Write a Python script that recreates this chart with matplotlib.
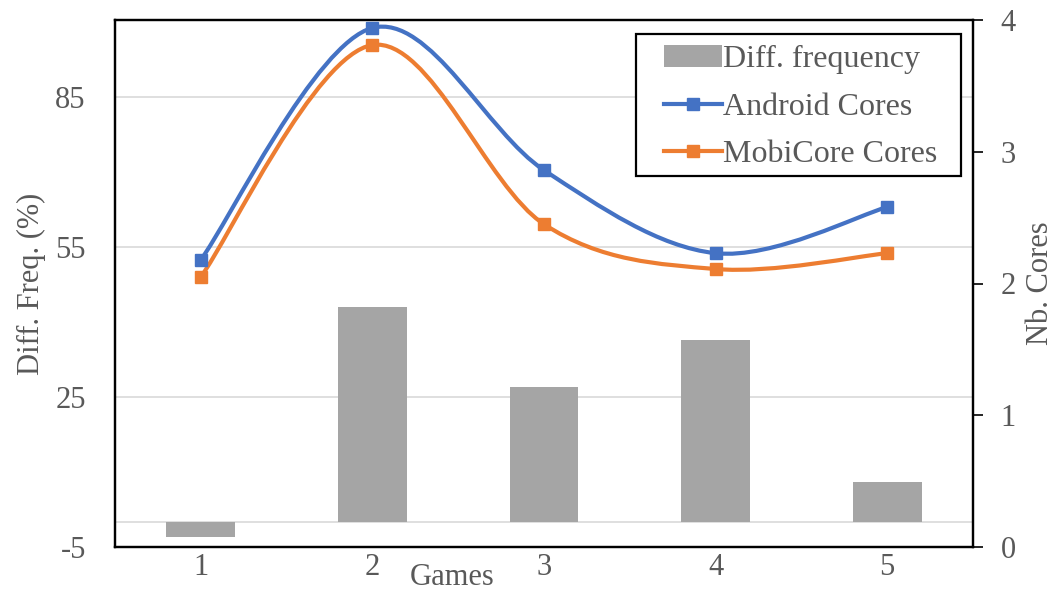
import matplotlib.pyplot as plt
from matplotlib.path import Path
from matplotlib.patches import PathPatch, Patch, Rectangle
from matplotlib.lines import Line2D

plt.rcParams['font.family'] = ['Liberation Serif', 'DejaVu Serif']
plt.rcParams['axes.unicode_minus'] = False

games = [1, 2, 3, 4, 5]
diff_freq = [-3, 43, 27, 36.4, 8]
android_cores = [2.18, 3.94, 2.86, 2.23, 2.58]
mobicore_cores = [2.05, 3.81, 2.45, 2.11, 2.23]

GRAY = '#A5A5A5'
BLUE = '#4472C4'
ORANGE = '#ED7D31'
TXT = '#595959'
FS = 22
W, H = 1054, 594


def smooth_path(xs, ys):
    # bezier through the points, control points from the neighbours (excel-like smoothing)
    pts = list(zip(xs, ys))
    verts = [pts[0]]
    codes = [Path.MOVETO]
    n = len(pts)
    for i in range(n - 1):
        p0 = pts[i - 1] if i > 0 else pts[i]
        p1 = pts[i]
        p2 = pts[i + 1]
        p3 = pts[i + 2] if i + 2 < n else pts[i + 1]
        c1 = (p1[0] + (p2[0] - p0[0]) / 6, p1[1] + (p2[1] - p0[1]) / 6)
        c2 = (p2[0] - (p3[0] - p1[0]) / 6, p2[1] - (p3[1] - p1[1]) / 6)
        verts += [c1, c2, p2]
        codes += [Path.CURVE4] * 3
    return Path(verts, codes)


fig = plt.figure(figsize=(W / 100, H / 100), dpi=100)
ax = fig.add_axes([115 / W, 1 - 547 / H, 858 / W, 527 / H])
ax2 = ax.twinx()

ax.bar(games, diff_freq, width=0.4, color=GRAY, zorder=2)
ax.axhline(0, color='#D9D9D9', lw=1.2, zorder=1)
ax.set_xlim(0.5, 5.5)
ax.set_ylim(-5, 100.4)
ax.set_yticks([-5, 25, 55, 85])
ax.set_xticks(games)
ax.grid(axis='y', color='#D9D9D9', lw=1.2, zorder=0)
ax.set_axisbelow(True)
ax.tick_params(axis='y', length=0, pad=21, labelsize=FS, labelcolor=TXT)
ax.tick_params(axis='x', length=0, pad=4, labelsize=FS, labelcolor=TXT)
ax.set_ylabel('Diff. Freq. (%)', fontsize=FS, color=TXT, labelpad=7)
ax.set_xlabel('Games', fontsize=FS, color=TXT)
ax.xaxis.set_label_coords((452 - 115) / 858, -0.03)

for series, col in [(android_cores, BLUE), (mobicore_cores, ORANGE)]:
    ax2.add_patch(PathPatch(smooth_path(games, series), fill=False,
                            edgecolor=col, lw=3, capstyle='round', zorder=3))
    ax2.plot(games, series, ls='none', marker='s', ms=8, color=col, zorder=4)
ax2.set_ylim(0, 4)
ax2.set_yticks([0, 1, 2, 3, 4])
ax2.tick_params(axis='y', length=7, width=1.2, pad=13, labelsize=FS, labelcolor=TXT)
ax2.set_ylabel('Nb. Cores', fontsize=FS, color=TXT, labelpad=7)

for a in (ax, ax2):
    for s in a.spines.values():
        s.set_color('black')
        s.set_linewidth(1.6)

# legend box drawn separately so the padding can differ per side
ax2.add_patch(Rectangle((636 / W, 1 - 176 / H), 325 / W, 142 / H,
                        transform=fig.transFigure, facecolor='white',
                        edgecolor='black', lw=1.6, zorder=5))
handles = [Patch(facecolor=GRAY, edgecolor='none'),
           Line2D([], [], color=BLUE, lw=3, marker='s', ms=8),
           Line2D([], [], color=ORANGE, lw=3, marker='s', ms=8)]
labels = ['Diff. frequency', 'Android Cores', 'MobiCore Cores']
leg = ax2.legend(handles, labels, loc='upper left',
                 bbox_to_anchor=(664 / W, 1 - 45 / H),
                 bbox_transform=fig.transFigure, borderaxespad=0, borderpad=0,
                 fontsize=23, labelcolor=TXT, frameon=False,
                 handlelength=1.8, handletextpad=0.05, labelspacing=0.57)
leg.set_zorder(6)

fig.savefig('out.png', dpi=100)
